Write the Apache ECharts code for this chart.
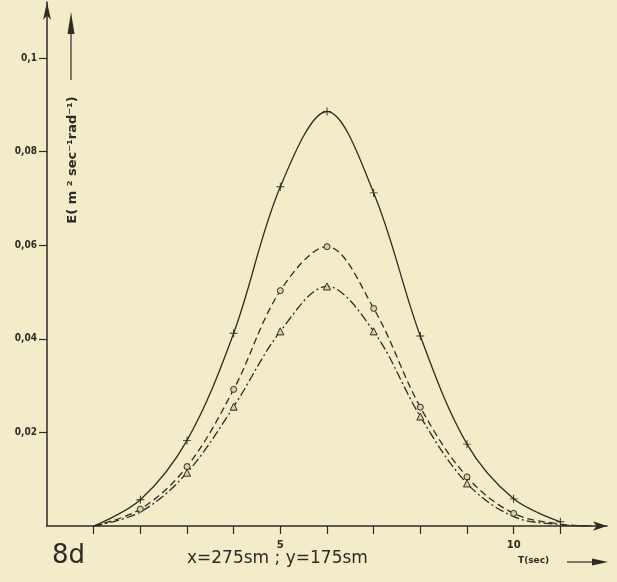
<!DOCTYPE html>
<html>
<head>
    <meta charset="UTF-8">
    <title>8d</title>
    <script type="text/javascript" src="https://cdn.jsdelivr.net/npm/echarts@6/dist/echarts.min.js"></script>
</head>
<style type="text/css">
html, body { margin: 0; padding: 0; background: #f3ecca; }
#chart { width: 617px; height: 582px; }
</style>
<body>
    <div id="chart"></div>
</body>
</html>

<script type="text/javascript">
    var tSolid  = [1, 2, 3, 4, 5, 6, 7, 8, 9, 10, 11];
    var eSolid  = [0, 0.0056, 0.0183, 0.0412, 0.0725, 0.0886, 0.0712, 0.0406, 0.0175, 0.0058, 0.0009];
    var mSolid  = [0, 1, 1, 1, 1, 1, 1, 1, 1, 1, 1];   // 1 = marker drawn

    var tCircle = [1, 2, 3, 4, 5, 6, 7, 8, 9, 10, 11, 11.7];
    var eCircle = [0, 0.0036, 0.0127, 0.0292, 0.0503, 0.0597, 0.0465, 0.0254, 0.0105, 0.0027, 0.0004, 0];
    var mCircle = [0, 1, 1, 1, 1, 1, 1, 1, 1, 1, 0, 0];

    var tTri    = [1, 2, 3, 4, 5, 6, 7, 8, 9, 10, 11, 11.7];
    var eTri    = [0, 0.003, 0.0114, 0.0255, 0.0416, 0.0512, 0.0416, 0.0234, 0.0091, 0.002, 0.0003, 0];
    var mTri    = [0, 0, 1, 1, 1, 1, 1, 1, 1, 0, 0, 0];

    var xTicks  = [1, 2, 3, 4, 5, 6, 7, 8, 9, 10, 11];
    var xLabels = [5, 10];
    var yTicks  = [0.02, 0.04, 0.06, 0.08, 0.1];

    var ink = '#2f2b22';
    var paper = '#f3ecca';
    var plus = 'path://M4.4,0h1.2v4.4h4.4v1.2h-4.4v4.4h-1.2v-4.4h-4.4v-1.2h4.4z';

    function pts(ts, es, ms) {
        var out = [];
        for (var i = 0; i < ts.length; i++) {
            var p = { value: [ts[i], es[i]] };
            if (!ms[i]) p.symbol = 'none';
            out.push(p);
        }
        return out;
    }

    var myChart = echarts.init(document.getElementById('chart'));

    var option = {
        backgroundColor: paper,
        animation: false,
        grid: { left: 47, right: 10, top: 2, bottom: 56 },
        xAxis: {
            type: 'value', min: 0, max: 12,
            splitLine: { show: false },
            axisLine: { lineStyle: { color: ink, width: 1.5 }, symbol: ['none', 'arrow'], symbolSize: [7, 14] },
            axisTick: { customValues: xTicks, length: 8, lineStyle: { color: ink, width: 1.2 } },
            axisLabel: { customValues: xLabels, color: ink, fontSize: 10, fontWeight: 'bold', margin: 14, fontFamily: 'DejaVu Sans' }
        },
        yAxis: {
            type: 'value', min: 0, max: 0.112,
            splitLine: { show: false },
            axisLine: { lineStyle: { color: ink, width: 1.5 }, symbol: ['none', 'arrow'], symbolSize: [6, 18] },
            axisTick: { customValues: yTicks, length: 8, lineStyle: { color: ink, width: 1.2 } },
            axisLabel: {
                customValues: yTicks, color: ink, fontSize: 10, margin: 10, fontWeight: 'bold',
                fontFamily: 'DejaVu Sans Condensed',
                formatter: function (v) { return String(v).replace('.', ','); }
            }
        },
        series: [{
            name: 'plus', type: 'line', smooth: 0.35,
            data: pts(tSolid, eSolid, mSolid),
            symbol: plus, symbolSize: 8,
            lineStyle: { color: ink, width: 1.3 },
            itemStyle: { color: ink }
        }, {
            name: 'circle', type: 'line', smooth: 0.35,
            data: pts(tCircle, eCircle, mCircle),
            symbol: 'circle', symbolSize: 6,
            lineStyle: { color: ink, width: 1.3, type: [7, 4] },
            itemStyle: { color: '#d9d0aa', borderColor: ink, borderWidth: 1 }
        }, {
            name: 'triangle', type: 'line', smooth: 0.35,
            data: pts(tTri, eTri, mTri),
            symbol: 'triangle', symbolSize: 7,
            lineStyle: { color: ink, width: 1.3, type: [9, 3, 2, 3] },
            itemStyle: { color: '#d9d0aa', borderColor: ink, borderWidth: 1 }
        }],
        graphic: [
            // y axis name, rotated to read upward, with its arrow
            { type: 'text', x: 73, y: 160, rotation: Math.PI / 2,
              style: { text: 'E( m ² sec⁻¹rad⁻¹)', fill: ink, font: 'bold 13px "DejaVu Sans"', align: 'center', verticalAlign: 'middle' } },
            { type: 'line', shape: { x1: 71, y1: 80, x2: 71, y2: 30 }, style: { stroke: ink, lineWidth: 1.2 } },
            { type: 'polygon', shape: { points: [[67.5, 34], [74.5, 34], [71, 12]] }, style: { fill: ink } },
            // bottom captions
            { type: 'text', left: 52, top: 543, style: { text: '8d', fill: ink, font: '26px "DejaVu Sans"' } },
            { type: 'text', left: 187, top: 550, style: { text: 'x=275sm ; y=175sm', fill: ink, font: '17px "DejaVu Sans"' } },
            { type: 'text', left: 518, top: 556, style: { text: 'T(sec)', fill: ink, font: 'bold 9px "DejaVu Sans"' } },
            { type: 'line', shape: { x1: 567, y1: 562, x2: 595, y2: 562 }, style: { stroke: ink, lineWidth: 1.2 } },
            { type: 'polygon', shape: { points: [[592, 558.5], [592, 565.5], [608, 562]] }, style: { fill: ink } }
        ]
    };

    myChart.setOption(option);
</script>
